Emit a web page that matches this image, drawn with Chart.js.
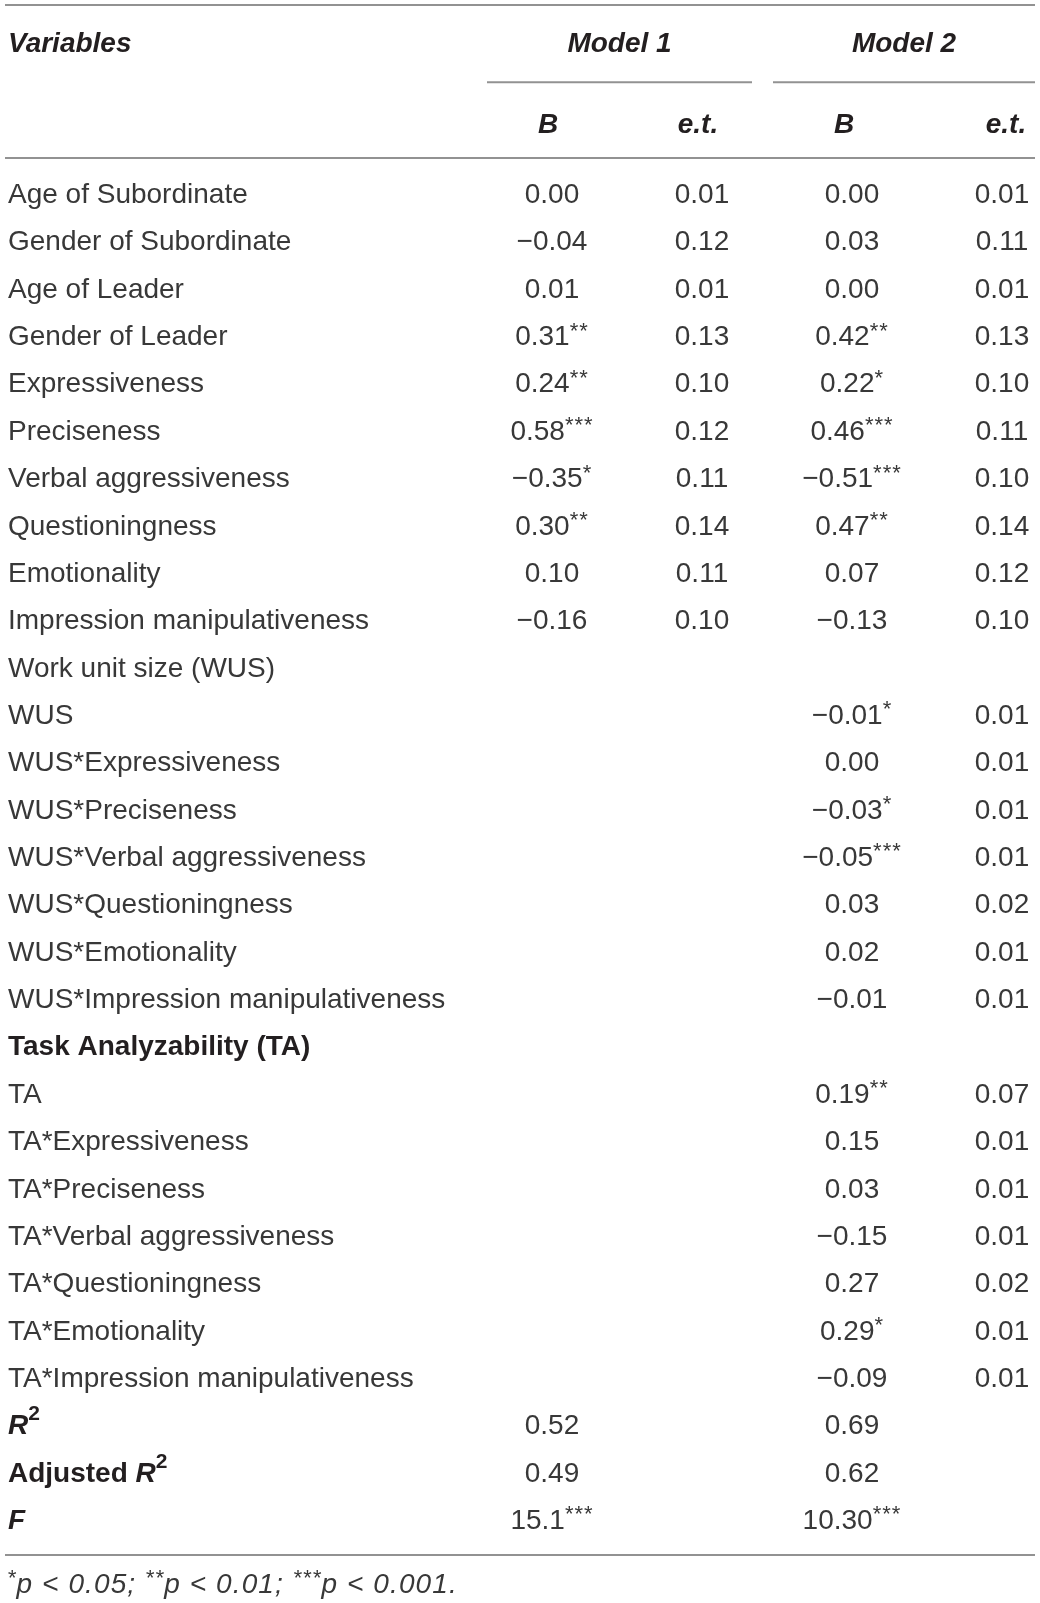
<!DOCTYPE html>
<html>
<head>
<meta charset="utf-8">
<title>Regression table</title>
<script src="https://cdn.jsdelivr.net/npm/chart.js@4.4.0/dist/chart.umd.min.js"></script>
<style>
  html, body { margin: 0; padding: 0; background: #ffffff; }
  #table { display: block; }
</style>
</head>
<body>
<canvas id="table" width="1040" height="1603"></canvas>
<script>
// rows of the table, top to bottom
const variables = [
  "Age of Subordinate", "Gender of Subordinate", "Age of Leader", "Gender of Leader",
  "Expressiveness", "Preciseness", "Verbal aggressiveness", "Questioningness",
  "Emotionality", "Impression manipulativeness",
  "Work unit size (WUS)", "WUS", "WUS*Expressiveness", "WUS*Preciseness",
  "WUS*Verbal aggressiveness", "WUS*Questioningness", "WUS*Emotionality",
  "WUS*Impression manipulativeness",
  "Task Analyzability (TA)", "TA", "TA*Expressiveness", "TA*Preciseness",
  "TA*Verbal aggressiveness", "TA*Questioningness", "TA*Emotionality",
  "TA*Impression manipulativeness",
  "R²", "Adjusted R²", "F"
];

const columns = ["Model 1 B", "Model 1 e.t.", "Model 2 B", "Model 2 e.t."];
const models = ["Model 1", "Model 2"];
const subHeaders = ["B", "e.t.", "B", "e.t."];

// cell values, "" = empty cell
const model1B = [
  "0.00", "−0.04", "0.01", "0.31**", "0.24**", "0.58***", "−0.35*", "0.30**", "0.10", "−0.16",
  "", "", "", "", "", "", "", "",
  "", "", "", "", "", "", "", "",
  "0.52", "0.49", "15.1***"
];
const model1SE = [
  "0.01", "0.12", "0.01", "0.13", "0.10", "0.12", "0.11", "0.14", "0.11", "0.10",
  "", "", "", "", "", "", "", "",
  "", "", "", "", "", "", "", "",
  "", "", ""
];
const model2B = [
  "0.00", "0.03", "0.00", "0.42**", "0.22*", "0.46***", "−0.51***", "0.47**", "0.07", "−0.13",
  "", "−0.01*", "0.00", "−0.03*", "−0.05***", "0.03", "0.02", "−0.01",
  "", "0.19**", "0.15", "0.03", "−0.15", "0.27", "0.29*", "−0.09",
  "0.69", "0.62", "10.30***"
];
const model2SE = [
  "0.01", "0.11", "0.01", "0.13", "0.10", "0.11", "0.10", "0.14", "0.12", "0.10",
  "", "0.01", "0.01", "0.01", "0.01", "0.02", "0.01", "0.01",
  "", "0.07", "0.01", "0.01", "0.01", "0.02", "0.01", "0.01",
  "", "", ""
];

const footnote = [["*", "p < 0.05; "], ["**", "p < 0.01; "], ["***", "p < 0.001."]];

const FAMILY = '"Liberation Sans", Arial, sans-serif';
const FS = 28;
const INK = "#231f20";
const INK_LIGHT = "#383838";
const RULE = "#929292";

const boldRows = new Set(["Task Analyzability (TA)", "R²", "Adjusted R²", "F"]);

function font(size, bold, italic) {
  return (italic ? "italic " : "") + (bold ? "bold " : "") + size + "px " + FAMILY;
}

// runs: [{ text, bold, italic, sup, raise, scale }], y = cap centre of the line
function drawRuns(ctx, runs, x, y, align, spacing) {
  const sized = runs.map(r => {
    const size = r.sup ? Math.round(FS * (r.scale || 0.78)) : FS;
    const ls = r.sup && !r.scale ? 1 : (spacing || 0);
    ctx.font = font(size, r.bold, r.italic);
    ctx.letterSpacing = ls + "px";
    return { ...r, size, ls, w: ctx.measureText(r.text).width };
  });
  const total = sized.reduce((s, r) => s + r.w, 0);
  let cx = align === "center" ? x - total / 2 : x;
  const base = y + FS * 0.358;
  ctx.textAlign = "left";
  ctx.textBaseline = "alphabetic";
  sized.forEach(r => {
    ctx.font = font(r.size, r.bold, r.italic);
    ctx.letterSpacing = r.ls + "px";
    ctx.fillStyle = r.bold ? INK : INK_LIGHT;
    ctx.fillText(r.text, cx, r.sup ? base - (r.raise || FS * 0.27) : base);
    cx += r.w;
  });
  ctx.letterSpacing = "0px";
}

function cellRuns(text) {
  const m = text.match(/^([^*]*)(\**)$/);
  const runs = [{ text: m[1] }];
  if (m[2]) runs.push({ text: m[2], sup: true });
  return runs;
}

function labelRuns(label) {
  if (!boldRows.has(label)) return [{ text: label }];
  if (label === "F") return [{ text: "F", bold: true, italic: true }];
  if (label.endsWith("R²")) {
    const runs = [];
    const lead = label.slice(0, -2);
    if (lead) runs.push({ text: lead, bold: true });
    runs.push({ text: "R", bold: true, italic: true });
    runs.push({ text: "2", bold: true, sup: true, scale: 0.74, raise: 14 });
    return runs;
  }
  return [{ text: label, bold: true }];
}

const cellColumns = [model1B, model1SE, model2B, model2SE];

const datasets = cellColumns.map((values, c) => ({
  label: columns[c],
  data: values
    .map((v, r) => ({ x: columns[c], y: variables[r], text: v }))
    .filter(p => p.text !== ""),
  pointRadius: 0,
  pointHoverRadius: 0,
  showLine: false
}));

const tablePlugin = {
  id: "tablePlugin",
  afterDatasetsDraw(chart) {
    const { ctx, scales: { x, y } } = chart;
    const rowStep = y.getPixelForValue(1) - y.getPixelForValue(0);
    const firstRow = y.getPixelForValue(0);
    const lastRow = y.getPixelForValue(variables.length - 1);
    const colX = i => x.getPixelForValue(i);
    const left = 8;
    const right = colX(3) + 33;

    ctx.save();
    ctx.strokeStyle = RULE;
    ctx.lineWidth = 2;
    const rule = (x0, x1, yy) => {
      ctx.beginPath();
      ctx.moveTo(x0, yy);
      ctx.lineTo(x1, yy);
      ctx.stroke();
    };
    const groups = [
      [colX(0) - 65, colX(1) + 50],
      [colX(2) - 79, right]
    ];

    rule(5, right, firstRow - rowStep * 3.97);
    groups.forEach(g => rule(g[0], g[1], firstRow - rowStep * 2.34));
    rule(5, right, firstRow - rowStep * 0.74);
    rule(5, right, lastRow + rowStep * 0.76);

    // header rows
    const headY = firstRow - rowStep * 3.19;
    drawRuns(ctx, [{ text: "Variables", bold: true, italic: true }], left, headY, "left");
    models.forEach((m, i) => {
      drawRuns(ctx, [{ text: m, bold: true, italic: true }], (groups[i][0] + groups[i][1]) / 2, headY, "center");
    });
    const subY = firstRow - rowStep * 1.48;
    const subShift = [-4, -4, -8, 4];
    subHeaders.forEach((h, i) => {
      drawRuns(ctx, [{ text: h, bold: true, italic: true }], colX(i) + subShift[i], subY, "center");
    });

    // row labels
    variables.forEach((v, i) => {
      drawRuns(ctx, labelRuns(v), left, y.getPixelForValue(i), "left");
    });

    // cells, placed by the scales
    chart.data.datasets.forEach((ds, d) => {
      chart.getDatasetMeta(d).data.forEach((pt, j) => {
        drawRuns(ctx, cellRuns(ds.data[j].text), pt.x, pt.y, "center");
      });
    });

    // footnote
    const noteRuns = [];
    footnote.forEach(([stars, txt]) => {
      noteRuns.push({ text: stars, italic: true, sup: true });
      noteRuns.push({ text: txt, italic: true });
    });
    drawRuns(ctx, noteRuns, left - 1, lastRow + rowStep * 1.35, "left", 1.1);
    ctx.restore();
  }
};

new Chart(document.getElementById("table"), {
  type: "scatter",
  data: { datasets },
  options: {
    responsive: false,
    animation: false,
    events: [],
    layout: { padding: { left: 552, right: 38, top: 193, bottom: 84 } },
    scales: {
      x: { type: "category", labels: columns, offset: false, display: false },
      y: { type: "category", labels: variables, offset: false, display: false }
    },
    plugins: {
      legend: { display: false },
      tooltip: { enabled: false },
      title: { display: false }
    }
  },
  plugins: [tablePlugin]
});
</script>
</body>
</html>
